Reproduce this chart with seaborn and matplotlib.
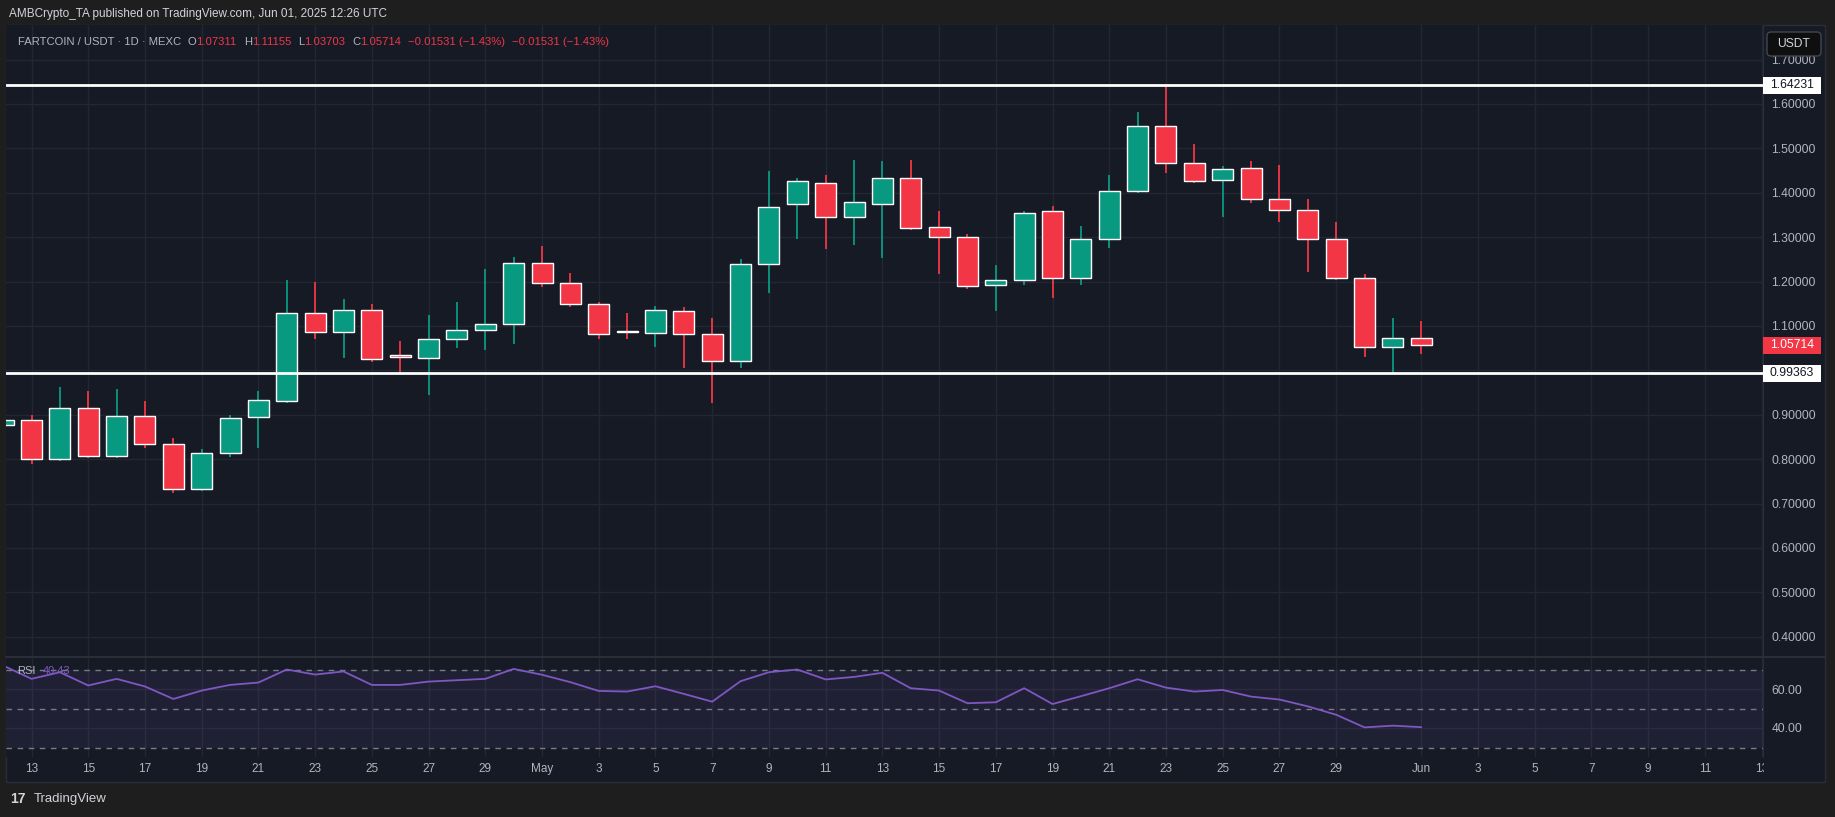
import numpy as np
import pandas as pd
import matplotlib
matplotlib.use("Agg")
import matplotlib.pyplot as plt
import matplotlib.dates as mdates
from matplotlib.patches import Rectangle, FancyBboxPatch
from matplotlib.lines import Line2D
from matplotlib.transforms import IdentityTransform
import seaborn as sns

# daily candles, Apr 12 .. Jun 1 2025
dates = pd.date_range("2025-04-12", "2025-06-01", freq="D")
opens = [0.878, 0.889, 0.800, 0.916, 0.808, 0.897, 0.834, 0.734, 0.813, 0.895,
         0.932, 1.129, 1.087, 1.137, 1.034, 1.029, 1.071, 1.092, 1.105,
         1.242, 1.197, 1.150, 1.089, 1.084, 1.134, 1.082, 1.021, 1.240, 1.374,
         1.421, 1.345, 1.374, 1.434, 1.324, 1.300, 1.192, 1.203, 1.358, 1.208,
         1.297, 1.403, 1.550, 1.468, 1.429, 1.455, 1.387, 1.361, 1.295, 1.208,
         1.0535, 1.07311]
highs = [0.895, 0.900, 0.963, 0.953, 0.958, 0.930, 0.847, 0.824, 0.900, 0.953,
         1.203, 1.200, 1.160, 1.150, 1.066, 1.124, 1.155, 1.229, 1.255,
         1.280, 1.220, 1.155, 1.129, 1.145, 1.142, 1.118, 1.250, 1.450, 1.434,
         1.440, 1.474, 1.471, 1.474, 1.360, 1.308, 1.237, 1.358, 1.371, 1.326,
         1.440, 1.582, 1.64231, 1.510, 1.461, 1.471, 1.463, 1.387, 1.334, 1.216,
         1.118, 1.11155]
lows = [0.872, 0.790, 0.797, 0.803, 0.803, 0.826, 0.724, 0.729, 0.805, 0.826,
        0.926, 1.071, 1.029, 1.018, 0.992, 0.945, 1.050, 1.047, 1.060,
        1.187, 1.142, 1.071, 1.071, 1.053, 1.005, 0.926, 1.005, 1.174, 1.295,
        1.274, 1.282, 1.253, 1.316, 1.216, 1.184, 1.134, 1.192, 1.163, 1.192,
        1.276, 1.400, 1.445, 1.421, 1.345, 1.376, 1.334, 1.221, 1.203, 1.030,
        0.99363, 1.03703]
closes = [0.889, 0.800, 0.916, 0.808, 0.897, 0.834, 0.734, 0.813, 0.892, 0.934,
          1.129, 1.087, 1.137, 1.026, 1.030, 1.071, 1.092, 1.105, 1.242,
          1.197, 1.150, 1.082, 1.086, 1.137, 1.082, 1.021, 1.240, 1.368, 1.426,
          1.345, 1.379, 1.434, 1.321, 1.300, 1.189, 1.203, 1.355, 1.208, 1.297,
          1.403, 1.550, 1.468, 1.426, 1.453, 1.387, 1.361, 1.295, 1.208, 1.053,
          1.07311, 1.05714]
rsi = [72.0, 65.2, 68.6, 61.8, 65.2, 61.3, 54.9, 59.2, 62.1, 63.3,
       70.0, 67.4, 69.0, 62.1, 62.1, 63.8, 64.5, 65.2, 70.3,
       67.3, 63.5, 59.0, 58.7, 61.4, 57.5, 53.5, 64.0, 68.6, 70.0,
       64.9, 66.2, 68.3, 60.4, 59.2, 52.7, 53.2, 60.4, 52.3, 56.3,
       60.4, 65.0, 60.7, 58.7, 59.5, 56.1, 54.6, 51.1, 46.8, 40.3, 41.2, 40.43]

levels = [1.64231, 0.99363]
last_price = 1.05714

tick_dates = ["2025-04-13", "2025-04-15", "2025-04-17", "2025-04-19", "2025-04-21",
              "2025-04-23", "2025-04-25", "2025-04-27", "2025-04-29", "2025-05-01",
              "2025-05-03", "2025-05-05", "2025-05-07", "2025-05-09", "2025-05-11",
              "2025-05-13", "2025-05-15", "2025-05-17", "2025-05-19", "2025-05-21",
              "2025-05-23", "2025-05-25", "2025-05-27", "2025-05-29", "2025-06-01",
              "2025-06-03", "2025-06-05", "2025-06-07", "2025-06-09", "2025-06-11",
              "2025-06-13"]
tick_labels = ["13", "15", "17", "19", "21", "23", "25", "27", "29", "May",
               "3", "5", "7", "9", "11", "13", "15", "17", "19", "21", "23", "25",
               "27", "29", "Jun", "3", "5", "7", "9", "11", "13"]
price_ticks = [0.4, 0.5, 0.6, 0.7, 0.8, 0.9, 1.0, 1.1, 1.2, 1.3, 1.4, 1.5, 1.6, 1.7]
price_tick_labels = ["0.40000", "0.50000", "0.60000", "0.70000", "0.80000", "0.90000",
                     "", "1.10000", "1.20000", "1.30000", "1.40000", "1.50000",
                     "1.60000", "1.70000"]

BG = "#161a25"
OUTER = "#1e1e1e"
GRID = "#232733"
SEP = "#2a2e39"
TXT = "#b2b5be"
UP = "#089981"
DOWN = "#f23645"
PURPLE = "#7e57c2"

sns.set_style("dark", rc={"axes.facecolor": BG, "figure.facecolor": OUTER})
plt.rcParams["font.family"] = ["Liberation Sans", "DejaVu Sans"]

W, H = 1835, 817
fig = plt.figure(figsize=(W / 100, H / 100), dpi=100)


def fx(x):
    return x / W


def fy(y):
    return 1 - y / H


# chart frame
fig.patches.append(Rectangle((fx(6), fy(782)), (1825 - 6) / W, (782 - 25) / H,
                             transform=fig.transFigure, fc=BG, ec=SEP, lw=1, zorder=-2))

ax = fig.add_axes([fx(6), fy(657), (1763 - 6) / W, (657 - 25) / H])
ax_rsi = fig.add_axes([fx(6), fy(757), (1763 - 6) / W, 100 / H], sharex=ax)

x = mdates.date2num(dates)
o = np.array(opens)
c = np.array(closes)
cols = [UP if cc >= oo else DOWN for oo, cc in zip(o, c)]

ax.vlines(x, lows, highs, colors=cols, lw=1.3, zorder=3)
ax.bar(x, np.maximum(np.abs(c - o), 0.003), bottom=np.minimum(o, c), width=0.74,
       color=cols, zorder=4)
for lv in levels:
    ax.axhline(lv, color="white", lw=2, zorder=5)

may1 = mdates.date2num(pd.Timestamp("2025-05-01"))
ax.set_xlim(may1 - 18.9, may1 + 43.05)
ax.set_ylim(1 - (657 - 370.4) / 444, 1 + (370.4 - 25) / 444)

tnum = mdates.date2num(pd.to_datetime(tick_dates))
ax.set_xticks(tnum)
ax.tick_params(axis="x", labelbottom=False, length=0)
ax.yaxis.tick_right()
ax.set_yticks(price_ticks)
ax.set_yticklabels(price_tick_labels)
ax.tick_params(axis="y", length=0, pad=6, labelcolor=TXT, labelsize=8.7)
ax.grid(True, color=GRID, lw=1)
for s in ["left", "top", "bottom"]:
    ax.spines[s].set_visible(False)
ax.spines["right"].set_color(SEP)

# RSI pane
ax_rsi.axhspan(30, 70, color=PURPLE, alpha=0.1, lw=0, zorder=1)
for lv in [70, 50, 30]:
    ax_rsi.axhline(lv, color="#787b86", lw=1, ls=(0, (4, 4)), zorder=2)
sns.lineplot(x=x, y=rsi, ax=ax_rsi, color=PURPLE, lw=1.3, zorder=3)
ax_rsi.set_ylim(30 - 9.5 / 1.95, 70 + 12.5 / 1.95)
ax_rsi.yaxis.tick_right()
ax_rsi.set_yticks([40, 60])
ax_rsi.set_yticklabels(["40.00", "60.00"])
ax_rsi.tick_params(axis="y", length=0, pad=6, labelcolor=TXT, labelsize=8.7)
ax_rsi.set_xticks(tnum)
ax_rsi.set_xticklabels(tick_labels)
ax_rsi.tick_params(axis="x", length=0, pad=4, labelcolor=TXT, labelsize=8.5)
ax_rsi.grid(True, color=GRID, lw=1)
ax_rsi.set_xlabel("")
ax_rsi.set_ylabel("")
for s in ["left", "top", "bottom"]:
    ax_rsi.spines[s].set_visible(False)
ax_rsi.spines["right"].set_color(SEP)

# time axis corner under the price scale hides the overflow of the last date label
fig.patches.append(Rectangle((1764, H - 781), 60, 24, transform=IdentityTransform(),
                             fc=BG, ec="none", zorder=5))

# pane separator
fig.lines.append(Line2D([fx(6), fx(1825)], [fy(657), fy(657)], transform=fig.transFigure,
                        color=SEP, lw=1.5, zorder=6))


def price_tag(price, text, fc, tc):
    yp = ax.transData.transform((0, price))[1]
    fig.patches.append(Rectangle((1763, yp - 8.5), 58, 17, transform=IdentityTransform(),
                                 fc=fc, ec="none", zorder=7))
    fig.text(fx(1792), yp / H, text, ha="center", va="center", color=tc,
             fontsize=8.7, zorder=8)


price_tag(levels[0], "1.64231", "white", "#131722")
price_tag(last_price, "1.05714", DOWN, "white")
price_tag(levels[1], "0.99363", "white", "#131722")

# currency button
fig.patches.append(FancyBboxPatch((1767, H - 56), 54, 24, boxstyle="round,pad=0,rounding_size=4",
                                  transform=IdentityTransform(), fc="#0f0f0f", ec="#434651",
                                  lw=1, zorder=7))
fig.text(fx(1794), fy(44), "USDT", ha="center", va="center", color="#d1d4dc",
         fontsize=8.7, zorder=8)

# header
fig.text(fx(9), fy(14), "AMBCrypto_TA published on TradingView.com, Jun 01, 2025 12:26 UTC",
         ha="left", va="center", color="#d1d4dc", fontsize=8.5)

renderer = fig.canvas.get_renderer()
pieces = [("FARTCOIN / USDT · 1D · MEXC", TXT, 0), ("O", TXT, 7), ("1.07311", DOWN, 0),
          ("H", TXT, 7), ("1.11155", DOWN, 0), ("L", TXT, 7), ("1.03703", DOWN, 0),
          ("C", TXT, 7), ("1.05714", DOWN, 0), ("−0.01531 (−1.43%)", DOWN, 7),
          ("−0.01531 (−1.43%)", DOWN, 7)]
cx = 17.5
for txt, col, gap in pieces:
    cx += gap
    t = fig.text(fx(cx), fy(42), txt, ha="left", va="center", color=col, fontsize=8.1)
    cx += t.get_window_extent(renderer).width

# RSI legend
t = fig.text(fx(17), fy(671), "RSI", ha="left", va="center", color=TXT, fontsize=8)
fig.text(fx(17 + t.get_window_extent(renderer).width + 7), fy(671), "40.43",
         ha="left", va="center", color=PURPLE, fontsize=8)

# footer logo
fig.text(fx(10), fy(799), "17", ha="left", va="center", color="#d1d4dc",
         fontsize=10, fontweight="bold")
fig.text(fx(34), fy(799), "TradingView", ha="left", va="center", color="#d1d4dc",
         fontsize=9.5)

fig.savefig("out.png", dpi=100, facecolor=OUTER)
